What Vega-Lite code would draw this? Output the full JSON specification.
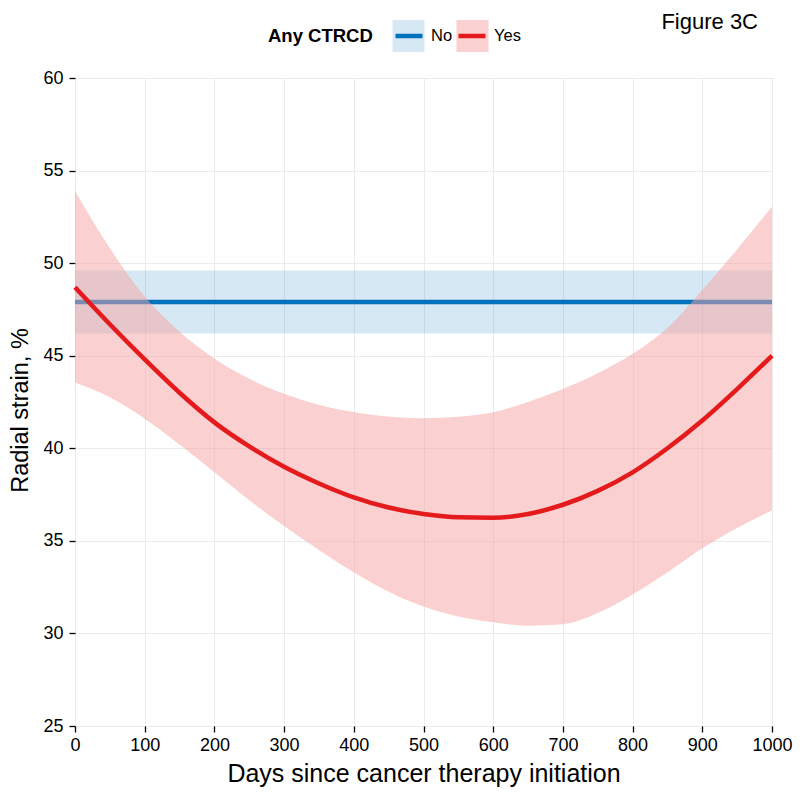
{
  "$schema": "https://vega.github.io/schema/vega-lite/v6.json",
  "autosize": {"type": "none"},
  "width": 697,
  "height": 648,
  "padding": {"left": 75, "top": 78, "right": 28, "bottom": 72},
  "background": "white",
  "title": {"text": "Figure 3C", "anchor": "end", "orient": "top", "frame": "group", "offset": 0, "dy": 14, "dx": -14, "fontSize": 22, "fontWeight": "normal", "font": "Liberation Sans", "color": "#000"},
  "config": {
    "view": {"stroke": "#8c8c8c", "strokeWidth": 1},
    "axis": {"domain": false, "grid": true, "gridColor": "#ebebeb", "gridWidth": 1, "tickColor": "#000", "tickWidth": 1.3, "tickSize": 6, "labelFont": "Liberation Sans", "labelFontSize": 18, "labelColor": "#000", "labelFlush": false, "titleFont": "Liberation Sans", "titleFontSize": 25, "titleFontWeight": "normal", "titleColor": "#000"},
    "legend": {"labelFont": "Liberation Sans", "labelFontSize": 16.5, "labelColor": "#000", "titleFont": "Liberation Sans", "titleFontSize": 18.5, "titleFontWeight": "bold", "titleColor": "#000"}
  },
  "data": {"values": [
    {"group": "No", "day": 0, "est": 47.9, "lo": 46.2, "hi": 49.6},
    {"group": "No", "day": 1000, "est": 47.9, "lo": 46.2, "hi": 49.6},
    {"group": "Yes", "day": 0, "est": 48.7, "lo": 43.55, "hi": 53.9},
    {"group": "Yes", "day": 50, "est": 46.7, "lo": 42.75, "hi": 50.8},
    {"group": "Yes", "day": 100, "est": 44.8, "lo": 41.6, "hi": 48.2},
    {"group": "Yes", "day": 150, "est": 43.0, "lo": 40.2, "hi": 46.3},
    {"group": "Yes", "day": 200, "est": 41.4, "lo": 38.7, "hi": 44.85},
    {"group": "Yes", "day": 250, "est": 40.1, "lo": 37.2, "hi": 43.75},
    {"group": "Yes", "day": 300, "est": 39.0, "lo": 35.8, "hi": 42.95},
    {"group": "Yes", "day": 350, "est": 38.1, "lo": 34.5, "hi": 42.35},
    {"group": "Yes", "day": 400, "est": 37.35, "lo": 33.3, "hi": 41.95},
    {"group": "Yes", "day": 450, "est": 36.8, "lo": 32.25, "hi": 41.72},
    {"group": "Yes", "day": 500, "est": 36.45, "lo": 31.45, "hi": 41.62},
    {"group": "Yes", "day": 550, "est": 36.27, "lo": 30.92, "hi": 41.7},
    {"group": "Yes", "day": 600, "est": 36.25, "lo": 30.6, "hi": 41.95},
    {"group": "Yes", "day": 650, "est": 36.45, "lo": 30.42, "hi": 42.5},
    {"group": "Yes", "day": 700, "est": 36.95, "lo": 30.5, "hi": 43.2},
    {"group": "Yes", "day": 750, "est": 37.7, "lo": 31.1, "hi": 44.05},
    {"group": "Yes", "day": 800, "est": 38.7, "lo": 32.1, "hi": 45.1},
    {"group": "Yes", "day": 850, "est": 40.0, "lo": 33.3, "hi": 46.5},
    {"group": "Yes", "day": 900, "est": 41.5, "lo": 34.6, "hi": 48.55},
    {"group": "Yes", "day": 950, "est": 43.2, "lo": 35.7, "hi": 50.75},
    {"group": "Yes", "day": 1000, "est": 45.0, "lo": 36.65, "hi": 53.05}
  ]},
  "encoding": {
    "x": {"field": "day", "type": "quantitative", "scale": {"domain": [0, 1000], "nice": false, "zero": false},
      "axis": {"title": "Days since cancer therapy initiation", "format": "d", "values": [0, 100, 200, 300, 400, 500, 600, 700, 800, 900, 1000], "labelPadding": 4, "titlePadding": 7}}
  },
  "layer": [
    {
      "transform": [{"filter": "datum.group === 'No'"}],
      "mark": {"type": "area", "opacity": 1, "interpolate": "monotone"},
      "encoding": {
        "y": {"field": "lo", "type": "quantitative", "scale": {"domain": [25, 60], "nice": false, "zero": false},
          "axis": {"title": "Radial strain, %", "titleFontSize": 23.5, "titleY": 332, "values": [25, 30, 35, 40, 45, 50, 55, 60], "labelPadding": 6, "titlePadding": 10}},
        "y2": {"field": "hi"},
        "fill": {"field": "group", "type": "nominal", "scale": {"range": ["rgba(0,114,188,0.16)", "rgba(245,161,161,0.5)"]},
          "legend": {"title": "Any CTRCD", "titleOrient": "left", "titleAnchor": "middle", "titleBaseline": "middle", "titlePadding": 19.5, "orient": "none", "legendX": 193, "legendY": -58, "direction": "horizontal", "symbolType": "square", "symbolSize": 1024, "symbolStrokeWidth": 0, "labelOffset": 0, "labelExpr": "''", "columnPadding": 32}}
      }
    },
    {
      "transform": [{"filter": "datum.group === 'No'"}],
      "mark": {"type": "line", "strokeWidth": 4.5, "interpolate": "monotone"},
      "encoding": {
        "y": {"field": "est", "type": "quantitative"},
        "stroke": {"field": "group", "type": "nominal", "scale": {"domain": ["No", "Yes"], "range": ["#0072bc", "#e41a1c"]},
          "legend": {"title": null, "orient": "none", "legendX": 318, "legendY": -58, "direction": "horizontal", "symbolType": "stroke", "symbolSize": 729, "symbolStrokeWidth": 4.5, "labelOffset": 6, "columnPadding": -4}}
      }
    },
    {
      "transform": [{"filter": "datum.group === 'Yes'"}],
      "mark": {"type": "area", "opacity": 1, "interpolate": "monotone"},
      "encoding": {
        "y": {"field": "lo", "type": "quantitative"},
        "y2": {"field": "hi"},
        "fill": {"field": "group", "type": "nominal"}
      }
    },
    {
      "transform": [{"filter": "datum.group === 'Yes'"}],
      "mark": {"type": "line", "strokeWidth": 4.5, "interpolate": "monotone"},
      "encoding": {
        "y": {"field": "est", "type": "quantitative"},
        "stroke": {"field": "group", "type": "nominal"}
      }
    }
  ]
}
